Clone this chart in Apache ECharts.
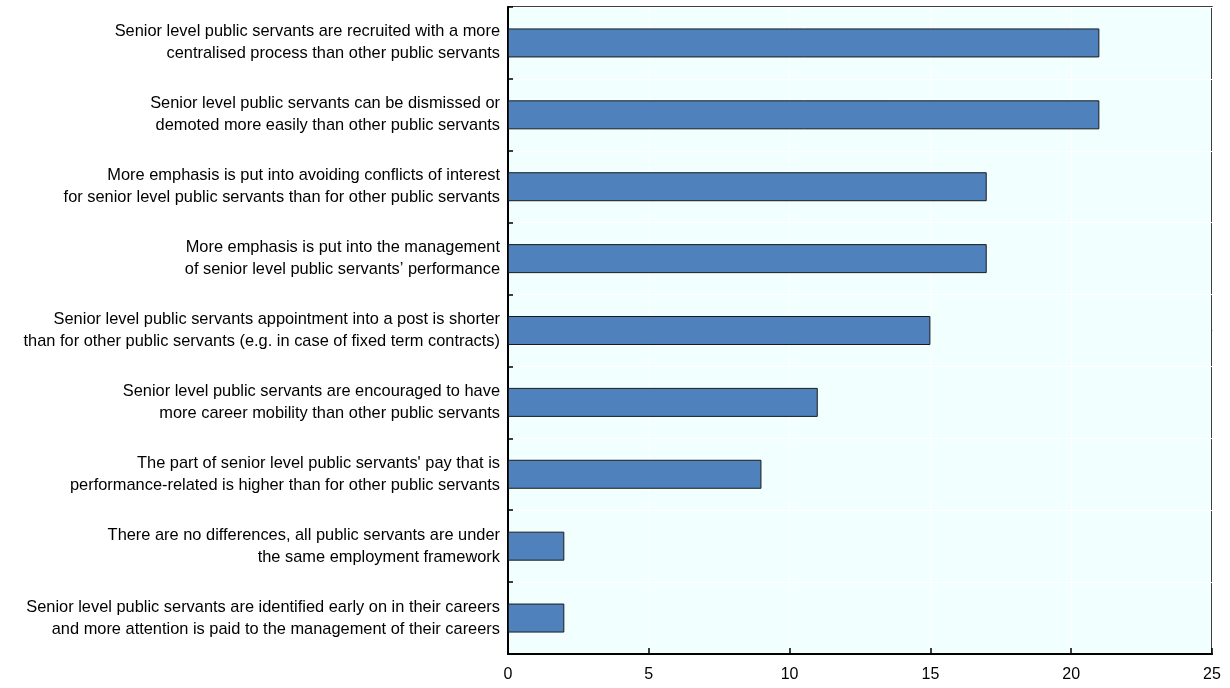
<!DOCTYPE html>
<html><head><meta charset="utf-8">
<script src="https://cdn.jsdelivr.net/npm/echarts@6/dist/echarts.min.js"></script>
<style>html,body{margin:0;padding:0;background:#fff;}#c{width:1230px;height:688px;}</style>
</head><body><div id="c"></div>
<script>
const categories = [
  "Senior level public servants are recruited with a more\ncentralised process than other public servants",
  "Senior level public servants can be dismissed or\ndemoted more easily than other public servants",
  "More emphasis is put into avoiding conflicts of interest\nfor senior level public servants than for other public servants",
  "More emphasis is put into the management\nof senior level public servants’ performance",
  "Senior level public servants appointment into a post is shorter\nthan for other public servants (e.g. in case of fixed term contracts)",
  "Senior level public servants are encouraged to have\nmore career mobility than other public servants",
  "The part of senior level public servants' pay that is\nperformance-related is higher than for other public servants",
  "There are no differences, all public servants are under\nthe same employment framework",
  "Senior level public servants are identified early on in their careers\nand more attention is paid to the management of their careers"
];
const values = [21, 21, 17, 17, 15, 11, 9, 2, 2];
const xTicks = [0, 5, 10, 15, 20, 25];

const chart = echarts.init(document.getElementById('c'));
chart.setOption({
  animation: false,
  textStyle: { fontFamily: 'Liberation Sans, Arial, sans-serif' },
  grid: { left: 508, right: 18, top: 7, bottom: 34, show: true, backgroundColor: '#F2FFFF', borderColor: '#000', borderWidth: 1.5 },
  xAxis: {
    type: 'value', min: xTicks[0], max: xTicks[xTicks.length - 1], interval: 5,
    axisLine: { show: true, lineStyle: { color: '#000', width: 2 } },
    axisTick: { show: true, inside: true, length: 6, lineStyle: { color: '#000', width: 1.5 } },
    axisLabel: { color: '#000', fontSize: 16, margin: 13, fontFamily: 'Liberation Sans, Arial, sans-serif' },
    splitLine: { show: true, lineStyle: { color: '#ffffff', width: 1 } }
  },
  yAxis: {
    type: 'category', data: categories, inverse: true,
    axisLine: { show: true, lineStyle: { color: '#000', width: 2 } },
    axisTick: { show: true, inside: true, length: 5, alignWithLabel: false, lineStyle: { color: '#000', width: 1.5 } },
    axisLabel: { color: '#000', fontSize: 16.4, lineHeight: 22, margin: 8, align: 'right', fontFamily: 'Liberation Sans, Arial, sans-serif' },
    splitLine: { show: true, lineStyle: { color: '#ffffff', width: 1 } }
  },
  series: [{
    type: 'bar', data: values, barWidth: 29,
    itemStyle: { color: '#4F81BD', borderColor: '#1a1a1a', borderWidth: 1 }
  }]
});
</script></body></html>
